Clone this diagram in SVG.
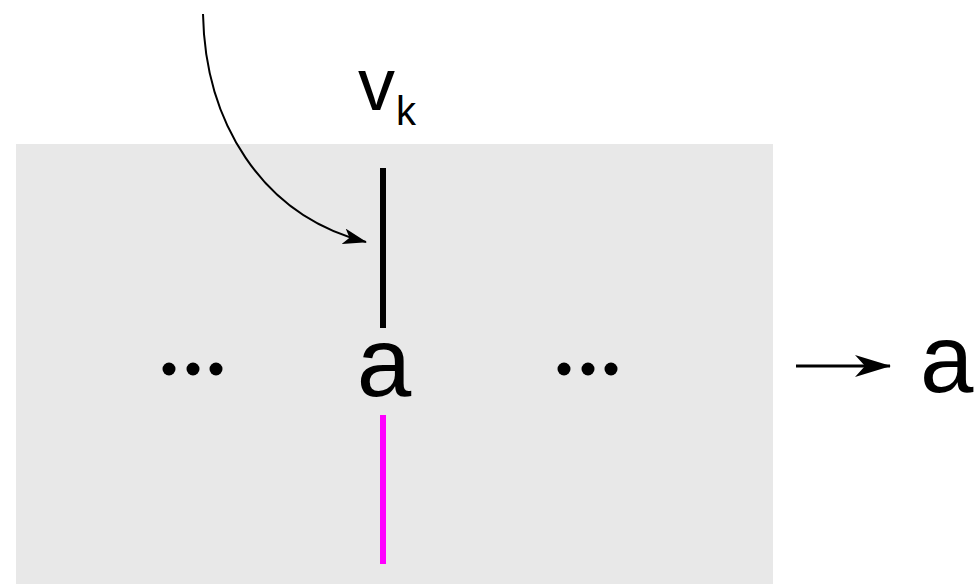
<svg xmlns="http://www.w3.org/2000/svg" width="974" height="584" viewBox="0 0 974 584">
<style>
.t{font-family:"Liberation Sans",Arial,sans-serif;fill:#000}
</style>
<defs>
<marker id="ah2" markerWidth="24" markerHeight="16" refX="23" refY="8" orient="auto" markerUnits="userSpaceOnUse">
<path d="M0,0 L24,8 L0,16 L6,8 Z" fill="#000"/>
</marker>
<marker id="ah3" markerWidth="36" markerHeight="22" refX="35" refY="11" orient="auto" markerUnits="userSpaceOnUse">
<path d="M0,0 L36,11 L0,22 L10,11 Z" fill="#000"/>
</marker>
</defs>
<rect x="16" y="144" width="757" height="440" fill="#e8e8e8"/>
<g id="top-line"><line x1="383" y1="168" x2="383" y2="328" stroke="#000" stroke-width="6"/></g>
<g id="bottom-line"><line x1="383" y1="415" x2="383" y2="564" stroke="#ff00ff" stroke-width="6"/></g>
<g id="label-vk"><text class="t" x="358" y="110" font-size="74">v</text><text class="t" x="396" y="125" font-size="40">k</text></g>
<g id="node-a"><text class="t" x="384" y="396" font-size="98" text-anchor="middle">a</text></g>
<g id="dots-left"><circle cx="169" cy="369" r="6.5"/><circle cx="193" cy="369" r="6.5"/><circle cx="216" cy="369" r="6.5"/></g>
<g id="dots-right"><circle cx="564" cy="369" r="6.5"/><circle cx="588" cy="369" r="6.5"/><circle cx="611" cy="369" r="6.5"/></g>
<g id="result-a"><text class="t" x="920" y="392" font-size="96">a</text></g>
<g id="connectors" fill="none" stroke="#000">
<path d="M203,14 C205,120 260,215 366,242" stroke-width="2" marker-end="url(#ah2)"/>
<line x1="796" y1="366" x2="890" y2="366" stroke-width="3" marker-end="url(#ah3)"/>
</g>
</svg>
